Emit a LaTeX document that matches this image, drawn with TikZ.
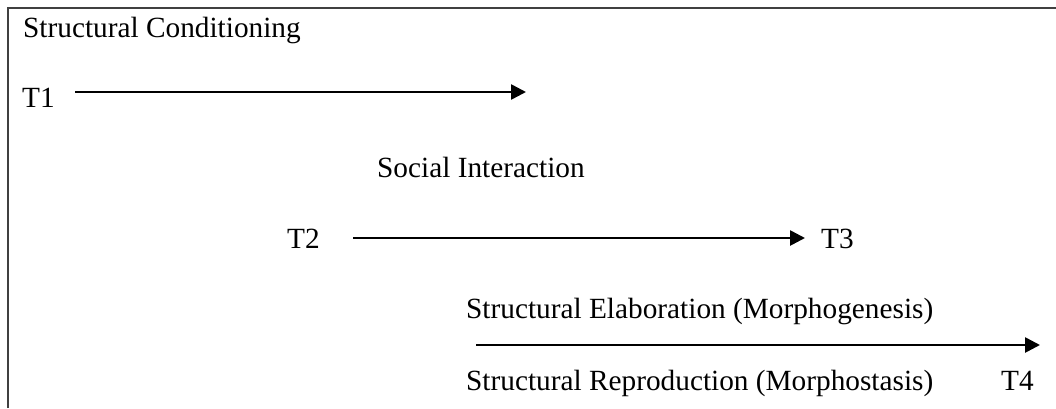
\documentclass[tikz,border=0pt]{standalone}
\usepackage{fontspec}
\setmainfont{Liberation Serif}
\usetikzlibrary{arrows.meta}

\tikzset{
  lbl/.style={anchor=base west, inner sep=0pt, font=\fontsize{29.3}{34}\selectfont},
  timearrow/.style={line width=2.6pt, -{Triangle[length=15pt,width=15pt]}}
}

\begin{document}
\begin{tikzpicture}[x=1pt,y=-1pt]

\useasboundingbox (0,0) rectangle (1056,408);

% Frame (left and top edges only)
\draw[line width=2pt,black!75] (8,408) -- (8,7.5) -- (1056,7.5);

% Phase labels
\node[lbl] (cond) at (23,37) {Structural Conditioning};
\node[lbl] (inter) at (377,177) {Social Interaction};
\node[lbl] (elab) at (466,318) {Structural Elaboration (Morphogenesis)};
\node[lbl] (repr) at (466,390) {Structural Reproduction (Morphostasis)};

% Time points
\node[lbl] (t1) at (22,107) {T1};
\node[lbl] (t2) at (287,248) {T2};
\node[lbl] (t3) at (821,248) {T3};
\node[lbl] (t4) at (1001,390) {T4};

% Arrow ends
\coordinate (a1s) at (75,92);
\coordinate (a1e) at (526,92);
\coordinate (a2s) at (353,238);
\coordinate (a2e) at (805,238);
\coordinate (a3s) at (476,345);
\coordinate (a3e) at (1040,345);

% Arrows
\draw[timearrow] (a1s) -- (a1e);
\draw[timearrow] (a2s) -- (a2e);
\draw[timearrow] (a3s) -- (a3e);

\end{tikzpicture}
\end{document}
